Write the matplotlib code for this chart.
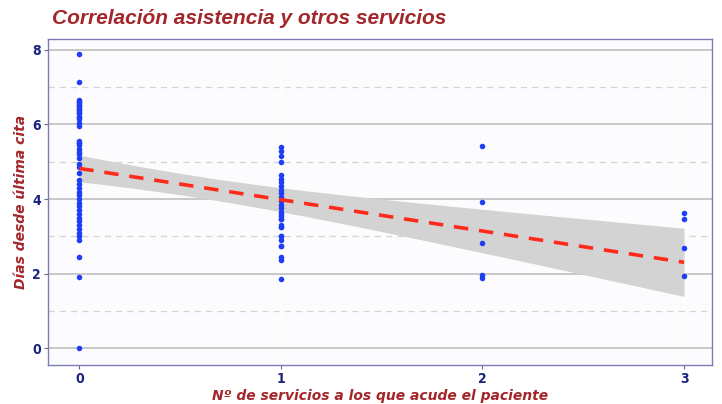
import numpy as np
import matplotlib.pyplot as plt

# dias desde la ultima cita, agrupados por numero de servicios
dias_0 = [7.9, 7.15, 6.65, 6.6, 6.55, 6.5, 6.45, 6.4, 6.3, 6.2, 6.15, 6.05, 5.95,
          5.55, 5.5, 5.45, 5.35, 5.25, 5.2, 5.1, 4.95, 4.85, 4.7,
          4.5, 4.4, 4.3, 4.2, 4.1, 4.0, 3.9, 3.8, 3.7, 3.6, 3.5, 3.4, 3.3, 3.2, 3.1, 3.0,
          2.9, 2.45, 1.9, 0.0,
          6.6, 6.5, 6.4, 6.3, 6.2, 5.5]
dias_1 = [5.4, 5.3, 5.15, 5.0, 4.65, 4.55, 4.45, 4.35, 4.25, 4.15, 4.05, 3.95, 3.85,
          3.75, 3.65, 3.55, 3.45, 3.25, 3.0, 2.9, 2.75, 2.45, 2.35, 1.85,
          3.6, 3.45, 3.3, 3.25, 3.0, 2.75]
dias_2 = [5.42, 3.93, 2.81, 1.96, 1.87]
dias_3 = [3.63, 3.45, 2.68, 1.93]

servicios = np.concatenate([np.full(len(dias_0), 0), np.full(len(dias_1), 1),
                            np.full(len(dias_2), 2), np.full(len(dias_3), 3)]).astype(float)
dias = np.concatenate([dias_0, dias_1, dias_2, dias_3])

# ajuste lineal con intervalo de confianza del 95%
n = len(dias)
b, a = np.polyfit(servicios, dias, 1)
resid = dias - (a + b * servicios)
s = np.sqrt(np.sum(resid ** 2) / (n - 2))
sxx = np.sum((servicios - servicios.mean()) ** 2)
xs = np.linspace(0, 3, 80)
ys = a + b * xs
se = s * np.sqrt(1 / n + (xs - servicios.mean()) ** 2 / sxx)
t = 1.988

rojo = '#A3262A'
azul = '#1A237E'

fig = plt.figure(figsize=(7.22, 4.04), dpi=100)
ax = fig.add_axes([0.0665, 0.097, 0.92, 0.807])
ax.set_facecolor('#FCFCFF')

ax.fill_between(xs, ys - t * se, ys + t * se, color='#D3D3D3', lw=0, zorder=2)
ax.plot(xs, ys, color='#FF2A1A', lw=2.6, ls=(0, (4, 3)), zorder=4)
ax.scatter(servicios, dias, s=16, color='#1F3DF5', lw=0, zorder=3)

ax.set_xlim(-0.155, 3.14)
ax.set_ylim(-0.45, 8.3)
ax.set_xticks([0, 1, 2, 3])
ax.set_yticks([0, 2, 4, 6, 8])
ax.set_yticks([1, 3, 5, 7], minor=True)
ax.grid(axis='y', which='major', color='#C4C4C4', lw=1.3, zorder=0)
ax.grid(axis='y', which='minor', color='#D4D4D4', lw=0.9, ls=(0, (5, 4)), zorder=0)
ax.grid(axis='x', which='major', color='white', lw=1.0, zorder=1)
ax.tick_params(axis='both', which='minor', length=0)
ax.tick_params(axis='both', which='major', colors='#6A6A90', length=3, width=0.8,
               labelcolor=azul, labelsize=10, pad=2)
for lab in ax.get_xticklabels() + ax.get_yticklabels():
    lab.set_fontweight('bold')
    lab.set_fontstretch('condensed')
for sp in ax.spines.values():
    sp.set_color('#7C7CB4')
    sp.set_linewidth(1.0)

ax.set_xlabel('Nº de servicios a los que acude el paciente', color=rojo,
              fontsize=10, fontweight='bold', style='italic', labelpad=2)
ax.set_ylabel('Días desde última cita', color=rojo,
              fontsize=10, fontweight='bold', style='italic', labelpad=3)
fig.text(0.072, 0.955, 'Correlación asistencia y otros servicios', color=rojo,
         fontsize=15, fontweight='bold', style='italic', va='center',
         family=['Liberation Sans', 'DejaVu Sans'])

fig.savefig('out.png', dpi=100)
